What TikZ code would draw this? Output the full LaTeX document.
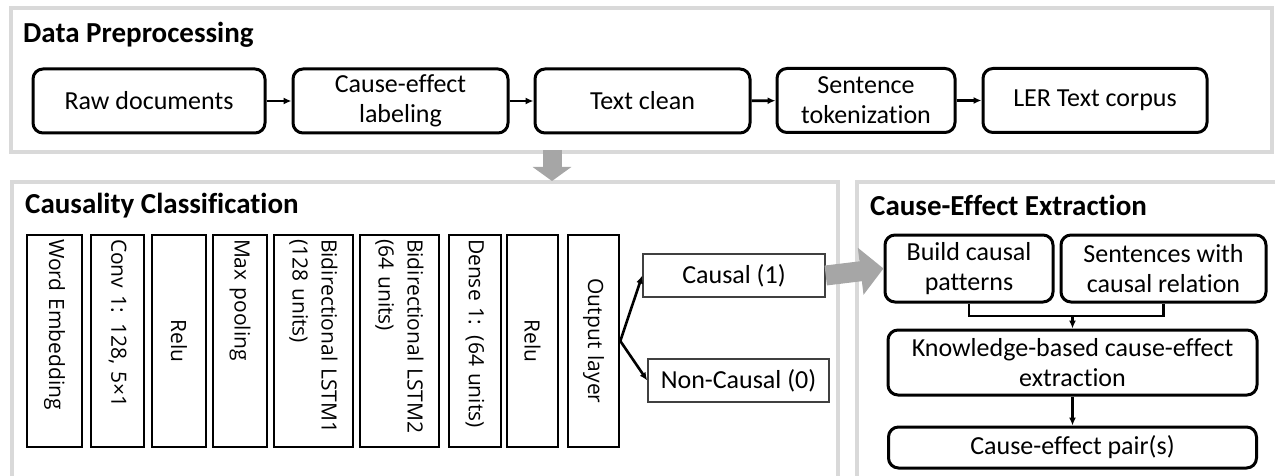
\documentclass[tikz,border=0pt]{standalone}
\usepackage{fontspec}
\setmainfont{Carlito}[Ligatures=NoCommon]
\newfontfamily\layerfont{Open Sans}
\usetikzlibrary{arrows.meta}

\definecolor{panelgray}{RGB}{217,217,217}
\definecolor{arrowgray}{RGB}{166,166,166}

\tikzset{
  panel/.style={draw=panelgray, line width=3.5pt},
  paneltitle/.style={anchor=base west, inner sep=0pt, font=\fontsize{29}{33}\selectfont\bfseries},
  stage/.style={draw, line width=3pt, rounded corners=10pt, align=center, inner sep=2pt, font=\fontsize{26}{30}\selectfont},
  layer/.style={draw, line width=2.6pt, rotate=-90, minimum width=212pt, text width=204pt, inner xsep=4pt, inner ysep=1pt, align=left, font=\layerfont\fontsize{21}{29}\selectfont},
  classbox/.style={draw=black!75, line width=1.5pt, inner sep=0pt, font=\fontsize{26}{30}\selectfont},
  flow/.style={->, line width=2.6pt},
  bigarrow/.style={draw=arrowgray}
}

\begin{document}
\begin{tikzpicture}[x=1pt, y=-1pt, >={Latex[length=8pt,width=7pt]}]

    \useasboundingbox (0,0) rectangle (1275,476);
    \clip (0,0) rectangle (1275,476);

    % Panels
    \draw[panel] (11,8) rectangle (1272,152);
    \draw[panel] (12,182) rectangle (838,500);
    \draw[panel] (857,182) rectangle (1290,500);
    \node[paneltitle] (dptitle) at (23,43) {Data Preprocessing};
    \node[paneltitle] (cctitle) at (25,213) {Causality Classification};
    \node[paneltitle] (cetitle) at (870,215) {Cause-Effect Extraction};

    % Data preprocessing
    \node[stage, minimum width=232pt, minimum height=64pt] (raw) at (149,101) {Raw documents};
    \node[stage, minimum width=215pt, minimum height=64pt] (label) at (400.5,101) {Cause-effect\\labeling};
    \node[stage, minimum width=215pt, minimum height=64pt] (clean) at (642.5,101) {Text clean};
    \node[stage, minimum width=178pt, minimum height=64pt] (token) at (866,100.5) {Sentence\\tokenization};
    \node[stage, minimum width=224pt, minimum height=64pt] (corpus) at (1095,100.5) {LER Text corpus};
    \draw[flow] (raw) -- (label);
    \draw[flow] (label) -- (clean);
    \draw[flow] (clean) -- (token);
    \draw[flow] (token) -- (corpus);

    % Down arrow
    \coordinate (dpout) at (552,150);
    \coordinate (ccin) at (552,181);
    \draw[bigarrow, line width=19pt, -{Triangle[length=14pt,width=38pt]}] (dpout) -- (ccin);

    % Layers
    \node[layer, minimum height=55pt] (emb) at (54.5,341) {Word Embedding};
    \node[layer, minimum height=53pt] (conv) at (117.5,341) {Conv 1: 128, 5×1};
    \node[layer, minimum height=54pt, align=center] (relua) at (179,341) {Relu};
    \node[layer, minimum height=54pt] (pool) at (240,341) {Max pooling};
    \node[layer, minimum height=79pt] (lstma) at (313.5,341) {Bidirectional LSTM1\\(128 units)};
    \node[layer, minimum height=79pt] (lstmb) at (399.5,341) {Bidirectional LSTM2\\(64 units)};
    \node[layer, minimum height=52pt] (dense) at (475,341) {Dense 1: (64 units)};
    \node[layer, minimum height=51pt, align=center] (relub) at (532.5,341) {Relu};
    \node[layer, minimum height=51pt, align=center] (out) at (593.5,341) {Output layer};

    % Classes
    \node[classbox, minimum width=182pt, minimum height=43pt] (causal) at (734,275.5) {Causal (1)};
    \node[classbox, minimum width=181pt, minimum height=43pt] (noncausal) at (738.5,380.5) {Non-Causal (0)};
    \draw[flow] (out.north) -- (causal.west);
    \draw[flow] (out.north) -- (noncausal.west);

    % Cause-effect extraction
    \node[stage, minimum width=168pt, minimum height=67pt] (build) at (969,268.5) {Build causal\\patterns};
    \node[stage, minimum width=205pt, minimum height=67pt] (sent) at (1163.5,268.5) {Sentences with\\causal relation};
    \node[stage, minimum width=369pt, minimum height=65pt] (know) at (1072.5,362.5) {Knowledge-based cause-effect\\extraction};
    \node[stage, minimum width=368pt, minimum height=41pt] (pair) at (1072.5,447.5) {Cause-effect pair(s)};
    \coordinate (join) at (1072.5,316);
    \draw[line width=2.6pt] (build.south) |- (join) -| (sent.south);
    \draw[flow] (join) -- (know.north);
    \draw[flow] (know.south) -- (pair.north);

    % Right arrow
    \draw[bigarrow, line width=20pt, -{Triangle[length=23pt,width=46pt]}] (causal.east) -- (build.west);

\end{tikzpicture}
\end{document}
